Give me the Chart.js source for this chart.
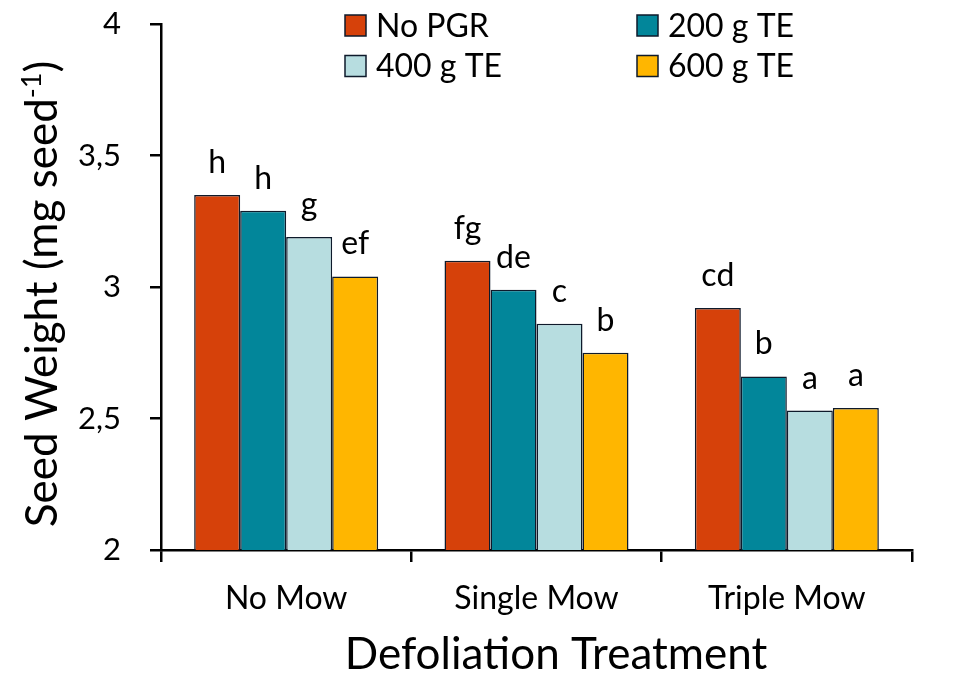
<!DOCTYPE html>
<html>
<head>
<meta charset="utf-8">
<script src="https://cdn.jsdelivr.net/npm/chart.js@4.4.1/dist/chart.umd.min.js"></script>
<style>
  html, body { margin: 0; padding: 0; background: #ffffff; }
  #wrap { width: 959px; height: 677px; position: relative; }
</style>
</head>
<body>
<div id="wrap"><canvas id="c" width="959" height="677"></canvas></div>
<script>
// Defoliation treatments on the category axis
const categories = ['No Mow', 'Single Mow', 'Triple Mow'];

// PGR rates (series)
const seriesNames = ['No PGR', '200 g TE', '400 g TE', '600 g TE'];

// Seed weight, mg seed^-1
const noPgr   = [3.35, 3.10, 2.92];
const te200   = [3.29, 2.99, 2.66];
const te400   = [3.19, 2.86, 2.53];
const te600   = [3.04, 2.75, 2.54];

// Mean separation letters shown above each bar
const lettersNoPgr = ['h', 'fg', 'cd'];
const lettersTe200 = ['h', 'de', 'b'];
const lettersTe400 = ['g', 'c', 'a'];
const lettersTe600 = ['ef', 'b', 'a'];

// Y axis tick labels (decimal comma)
const yTickValues = [2, 2.5, 3, 3.5, 4];
const yTickLabels = ['2', '2,5', '3', '3,5', '4'];

const colors = ['#D6410A', '#02869A', '#B7DDE0', '#FFB600'];
const outline = '#0E1A2B';
const FONT = 'Lato, "Open Sans", sans-serif';

const values = [noPgr, te200, te400, te600];
const letters = [lettersNoPgr, lettersTe200, lettersTe400, lettersTe600];

const datasets = seriesNames.map((name, i) => ({
  label: name,
  data: values[i],
  letters: letters[i],
  backgroundColor: colors[i],
  borderColor: outline,
  borderWidth: 1.5,
  borderSkipped: 'bottom',
  categoryPercentage: 0.735,
  barPercentage: 1.0
}));

// Letters above bars
const letterPlugin = {
  id: 'barLetters',
  afterDatasetsDraw(chart) {
    const ctx = chart.ctx;
    ctx.save();
    ctx.fillStyle = '#000';
    ctx.font = '32px ' + FONT;
    ctx.textAlign = 'center';
    ctx.textBaseline = 'alphabetic';
    chart.data.datasets.forEach((ds, di) => {
      const meta = chart.getDatasetMeta(di);
      meta.data.forEach((bar, i) => {
        ctx.fillText(ds.letters[i], bar.x, bar.y - 22);
      });
    });
    ctx.restore();
  }
};

// Two-column legend at the top
const legendPlugin = {
  id: 'gridLegend',
  afterDraw(chart) {
    const ctx = chart.ctx;
    const cols = [345, 637];
    const rows = [25.5, 66];
    const box = 21;
    ctx.save();
    ctx.font = '32px ' + FONT;
    ctx.textBaseline = 'middle';
    ctx.textAlign = 'left';
    chart.data.datasets.forEach((ds, i) => {
      const x = cols[i % 2];
      const y = rows[Math.floor(i / 2)];
      ctx.fillStyle = ds.backgroundColor;
      ctx.fillRect(x, y - box / 2, box, box);
      ctx.lineWidth = 1.5;
      ctx.strokeStyle = outline;
      ctx.strokeRect(x, y - box / 2, box, box);
      ctx.fillStyle = '#000';
      ctx.fillText(ds.label, x + box + 10, y + 1);
    });
    ctx.restore();
  }
};

// Axis titles (y title carries a superscript)
const titlePlugin = {
  id: 'axisTitles',
  afterDraw(chart) {
    const ctx = chart.ctx;
    ctx.save();
    ctx.fillStyle = '#000';
    ctx.textBaseline = 'alphabetic';
    // x title
    ctx.font = '44px ' + FONT;
    ctx.textAlign = 'center';
    ctx.fillText('Defoliation Treatment', 556, 669);
    // y title
    const main = 'Seed Weight (mg seed';
    const sup = '-1';
    const tail = ')';
    const bigFont = '44px ' + FONT;
    const supFont = '27px ' + FONT;
    ctx.font = bigFont;
    const wMain = ctx.measureText(main).width;
    const wTail = ctx.measureText(tail).width;
    ctx.font = supFont;
    const wSup = ctx.measureText(sup).width;
    const total = wMain + wSup + wTail;
    ctx.translate(57, 294);
    ctx.rotate(-Math.PI / 2);
    ctx.textAlign = 'left';
    let x = -total / 2;
    ctx.font = bigFont;
    ctx.fillText(main, x, 0);
    x += wMain;
    ctx.font = supFont;
    ctx.fillText(sup, x, -16);
    x += wSup;
    ctx.font = bigFont;
    ctx.fillText(tail, x, 0);
    ctx.restore();
  }
};

new Chart(document.getElementById('c'), {
  type: 'bar',
  data: { labels: categories, datasets },
  plugins: [letterPlugin, legendPlugin, titlePlugin],
  options: {
    responsive: false,
    animation: false,
    devicePixelRatio: 1,
    layout: { padding: { left: 0, top: 24, right: 47, bottom: 0 } },
    plugins: {
      legend: { display: false },
      tooltip: { enabled: false }
    },
    scales: {
      x: {
        afterFit(scale) { scale.height = 127; },
        border: { display: true, color: '#000', width: 2.5 },
        grid: {
          offset: true,
          drawOnChartArea: false,
          drawTicks: true,
          tickLength: 12,
          color: '#000',
          lineWidth: 2.5
        },
        ticks: {
          color: '#000',
          font: { family: FONT, size: 32 },
          padding: 17,
          maxRotation: 0
        }
      },
      y: {
        min: 2,
        max: 4,
        afterFit(scale) {
          scale.width = 161;
          scale.paddingTop = 0;
          scale.paddingBottom = 0;
        },
        afterBuildTicks(scale) {
          scale.ticks = yTickValues.map(v => ({ value: v }));
        },
        border: { display: true, color: '#000', width: 2.5 },
        grid: {
          drawOnChartArea: false,
          drawTicks: true,
          tickLength: 11,
          color: '#000',
          lineWidth: 2.5
        },
        ticks: {
          color: '#000',
          font: { family: FONT, size: 31 },
          padding: 29,
          callback(value) {
            const idx = yTickValues.indexOf(value);
            return idx >= 0 ? yTickLabels[idx] : '';
          }
        }
      }
    }
  }
});
</script>
</body>
</html>
